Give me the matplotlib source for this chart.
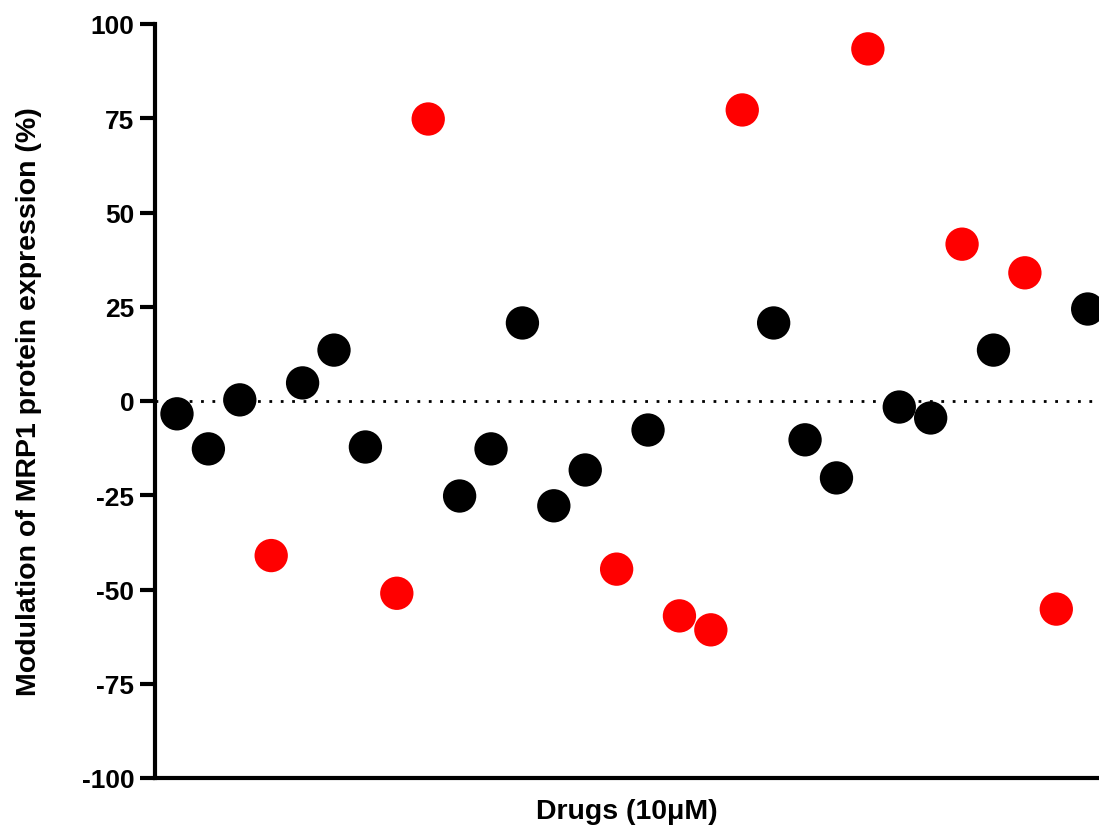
import matplotlib
matplotlib.use("Agg")
import matplotlib.pyplot as plt
import numpy as np

plt.rcParams['font.family'] = ['Liberation Sans', 'DejaVu Sans']
plt.rcParams['axes.unicode_minus'] = False

# Modulation of MRP1 protein expression (%) for each drug tested at 10 µM
drug_index = list(range(1, 31))
modulation = [-3.4, -12.7, 0.3, -41.0, 4.8, 13.5, -12.2, -51.0, 74.8, -25.2,
              -12.7, 20.7, -27.8, -18.3, -44.6, -7.7, -57.0, -60.7, 77.2, 20.7,
              -10.3, -20.4, 93.4, -1.6, -4.5, 41.6, 13.5, 34.0, -55.2, 24.4]
# Drugs with a change beyond +/-30 % are highlighted in red
significant = [False, False, False, True, False, False, False, True, True, False,
               False, False, False, False, True, False, True, True, True, False,
               False, False, True, False, False, True, False, True, True, False]

fig = plt.figure(figsize=(10.99, 8.28), dpi=100)
ax = fig.add_axes([155 / 1099, 1 - 779 / 828, 1 - 155 / 1099, (779 - 25) / 828])

ax.axhline(0, color='black', lw=2, linestyle=(0, (1, 3.1)), zorder=1)

colors = ['#ff0000' if s else '#000000' for s in significant]
ax.scatter(drug_index, modulation, s=24 ** 2, c=colors, edgecolors='none',
           zorder=3, clip_on=False)

ax.set_xlim(0.3, 30.36)
ax.set_ylim(-100, 100)
ax.set_yticks(np.arange(-100, 101, 25))
ax.set_xticks([])

for side in ['top', 'right']:
    ax.spines[side].set_visible(False)
for side in ['left', 'bottom']:
    ax.spines[side].set_linewidth(3)
ax.tick_params(axis='y', length=11, width=3, labelsize=19, pad=4)
for lbl in ax.get_yticklabels():
    lbl.set_fontweight('bold')

ax.set_ylabel('Modulation of MRP1 protein expression (%)', fontsize=20.5,
              fontweight='bold')
ax.set_xlabel('Drugs (10\u03bcM)', fontsize=20.5, fontweight='bold')
ax.yaxis.set_label_coords(-0.12, 0.5)
ax.xaxis.set_label_coords(0.5, -0.026)

fig.savefig('out.png', dpi=100)
